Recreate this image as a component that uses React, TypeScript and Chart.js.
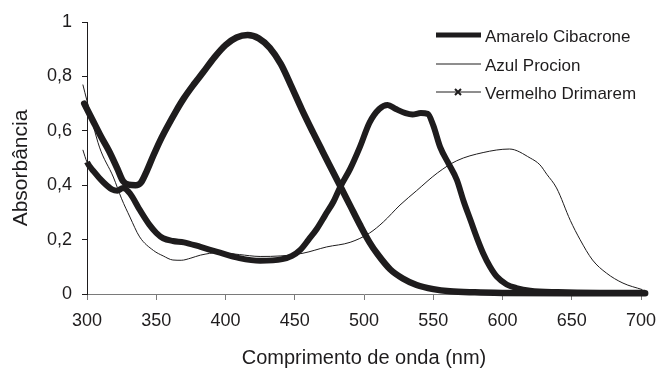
import React, { useEffect, useRef } from 'react';
import { Chart, registerables } from 'chart.js';

Chart.register(...registerables);

const seriesNames = ['Amarelo Cibacrone', 'Azul Procion', 'Vermelho Drimarem'];

const amareloX = [298, 304, 310, 316, 322, 326, 330, 335, 339, 343, 348, 353, 358, 364, 370, 377, 384, 392, 400, 408, 416, 424, 432, 440, 447, 455, 463, 470, 477, 483, 490, 497, 504, 510, 519, 528, 538, 550, 562, 580, 600, 650, 703];
const amareloY = [0.70, 0.64, 0.58, 0.525, 0.46, 0.415, 0.402, 0.40, 0.41, 0.45, 0.51, 0.566, 0.615, 0.67, 0.72, 0.77, 0.816, 0.87, 0.915, 0.943, 0.952, 0.94, 0.905, 0.845, 0.77, 0.68, 0.596, 0.525, 0.455, 0.395, 0.325, 0.255, 0.19, 0.145, 0.09, 0.057, 0.033, 0.018, 0.01, 0.006, 0.004, 0.003, 0.003];

const azulX = [297, 300, 309, 319, 325, 331, 338, 348, 355, 362, 368, 375, 382, 395, 410, 425, 440, 456, 473, 490, 504, 514, 526, 538, 553, 567, 586, 605, 620, 627, 632, 639, 649, 656, 665, 675, 687, 701];
const azulY = [0.77, 0.71, 0.54, 0.43, 0.35, 0.283, 0.21, 0.16, 0.14, 0.125, 0.124, 0.132, 0.143, 0.152, 0.145, 0.138, 0.14, 0.15, 0.173, 0.19, 0.224, 0.265, 0.327, 0.38, 0.445, 0.49, 0.52, 0.533, 0.50, 0.475, 0.44, 0.39, 0.27, 0.2, 0.125, 0.077, 0.04, 0.016];

const vermelhoX = [297, 300, 305, 312, 318, 322, 326, 331, 338, 345, 350, 355, 362, 370, 382, 394, 410, 425, 441, 448, 454, 460, 466, 472, 478, 483, 490, 497, 504, 511, 517, 523, 530, 535, 541, 546, 550, 555, 561, 567, 572, 577, 582, 586, 591, 596, 603, 610, 620, 640, 670, 703];
const vermelhoY = [0.53, 0.485, 0.45, 0.41, 0.385, 0.38, 0.39, 0.37, 0.31, 0.255, 0.225, 0.205, 0.195, 0.19, 0.173, 0.155, 0.132, 0.122, 0.128, 0.14, 0.162, 0.2, 0.24, 0.29, 0.34, 0.395, 0.46, 0.54, 0.63, 0.68, 0.695, 0.68, 0.665, 0.66, 0.665, 0.662, 0.62, 0.54, 0.48, 0.42, 0.34, 0.27, 0.2, 0.15, 0.1, 0.063, 0.035, 0.022, 0.012, 0.007, 0.005, 0.005];

const xTickValues = [300, 350, 400, 450, 500, 550, 600, 650, 700];
const yTickValues = [0, 0.2, 0.4, 0.6, 0.8, 1];
const yTickLabels = ['0', '0,2', '0,4', '0,6', '0,8', '1'];
const xTitle = 'Comprimento de onda (nm)';
const yTitle = 'Absorbância';

const FONT = "'Liberation Sans', Arial, Helvetica, sans-serif";
const INK = '#1e1c1d';

const toPoints = (xs: number[], ys: number[]) => xs.map((x, i) => ({ x, y: ys[i] }));

const overlayPlugin = {
  id: 'overlay',
  afterDraw(chart: any) {
    const ctx = chart.ctx as CanvasRenderingContext2D;
    ctx.save();
    ctx.translate(27, 168);
    ctx.rotate(-Math.PI / 2);
    ctx.font = `21px ${FONT}`;
    ctx.fillStyle = INK;
    ctx.textAlign = 'center';
    ctx.textBaseline = 'alphabetic';
    ctx.fillText(yTitle, 0, 0);
    ctx.restore();

    const lineY = [35, 64, 92];
    const textY = [37, 66, 94];
    const widths = [5, 1, 1];
    ctx.save();
    chart.data.datasets.forEach((ds: any, i: number) => {
      ctx.strokeStyle = INK;
      ctx.lineWidth = widths[i];
      ctx.beginPath();
      ctx.moveTo(436, lineY[i]);
      ctx.lineTo(481, lineY[i]);
      ctx.stroke();
      if (i === 2) {
        const cx = 458, cy = lineY[i], r = 3;
        ctx.lineWidth = 2;
        ctx.beginPath();
        ctx.moveTo(cx - r, cy - r);
        ctx.lineTo(cx + r, cy + r);
        ctx.moveTo(cx + r, cy - r);
        ctx.lineTo(cx - r, cy + r);
        ctx.stroke();
      }
      ctx.font = `17px ${FONT}`;
      ctx.fillStyle = INK;
      ctx.textAlign = 'left';
      ctx.textBaseline = 'middle';
      ctx.fillText(ds.label, 485, textY[i]);
    });
    ctx.restore();
  },
};

export default function App() {
  const ref = useRef<HTMLCanvasElement | null>(null);

  useEffect(() => {
    if (!ref.current) return;
    const chart = new Chart(ref.current, {
      type: 'line',
      data: {
        datasets: [
          {
            label: seriesNames[0],
            data: toPoints(amareloX, amareloY),
            borderColor: INK,
            borderWidth: 6.5,
            pointRadius: 0,
            cubicInterpolationMode: 'monotone',
            clip: false,
            borderCapStyle: 'round',
            borderJoinStyle: 'round',
          },
          {
            label: seriesNames[1],
            data: toPoints(azulX, azulY),
            borderColor: INK,
            borderWidth: 1,
            pointRadius: 0,
            cubicInterpolationMode: 'monotone',
            clip: false,
          },
          {
            label: seriesNames[2],
            data: toPoints(vermelhoX, vermelhoY),
            borderColor: INK,
            borderWidth: 6,
            pointRadius: 0,
            cubicInterpolationMode: 'monotone',
            clip: false,
            borderJoinStyle: 'round',
            segment: {
              borderWidth: (c: any) => (c.p0.parsed.x < 300 ? 1 : 6),
            },
          },
        ],
      } as any,
      options: {
        animation: false,
        responsive: false,
        devicePixelRatio: 1,
        layout: { padding: { left: 0, right: 18, top: 22, bottom: 0 } },
        plugins: { legend: { display: false }, tooltip: { enabled: false } },
        scales: {
          x: {
            type: 'linear',
            min: 300,
            max: 700,
            afterBuildTicks: (s: any) => {
              s.ticks = xTickValues.map((v) => ({ value: v }));
            },
            afterFit: (s: any) => {
              s.height = 77;
              s.paddingLeft = 0;
              s.paddingRight = 0;
            },
            grid: { drawOnChartArea: false, drawTicks: true, tickLength: 6, color: '#7a7a7a' },
            border: { color: '#7a7a7a', width: 1 },
            ticks: {
              font: { size: 18, family: FONT },
              color: INK,
              padding: 10,
              maxRotation: 0,
              autoSkip: false,
              callback: (v: any) => String(v),
            },
            title: {
              display: true,
              text: xTitle,
              font: { size: 20, family: FONT },
              color: INK,
              padding: { top: 0, bottom: 1 },
            },
          },
          y: {
            type: 'linear',
            min: 0,
            max: 1,
            afterBuildTicks: (s: any) => {
              s.ticks = yTickValues.map((v) => ({ value: v }));
            },
            afterFit: (s: any) => {
              s.width = 87;
              s.paddingTop = 0;
              s.paddingBottom = 0;
            },
            grid: { drawOnChartArea: false, drawTicks: true, tickLength: 5, color: INK },
            border: { color: INK, width: 1 },
            ticks: {
              font: { size: 18, family: FONT },
              color: INK,
              padding: 10,
              autoSkip: false,
              callback: (_v: any, i: number) => yTickLabels[i],
            },
          },
        },
      } as any,
      plugins: [overlayPlugin],
    });
    return () => chart.destroy();
  }, []);

  return (
    <div style={{ position: 'fixed', left: 0, top: 0, width: 659, height: 371, background: '#fff' }}>
      <canvas ref={ref} width={659} height={371} style={{ display: 'block' }} />
    </div>
  );
}
